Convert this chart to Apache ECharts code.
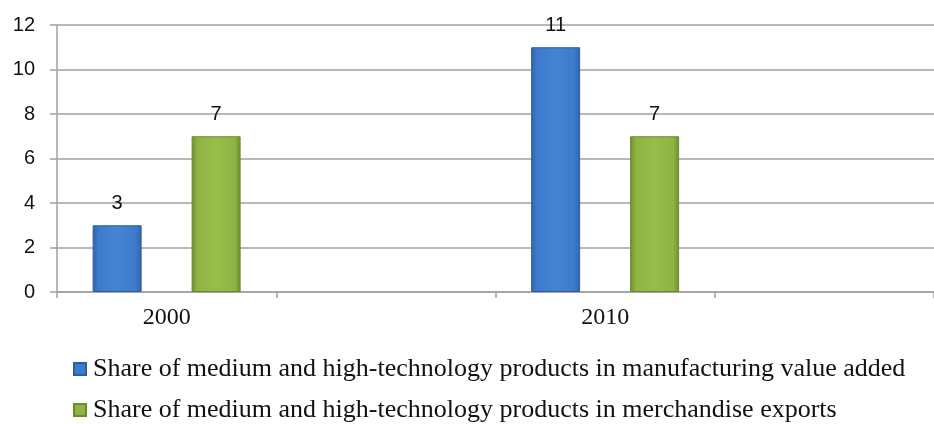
<!DOCTYPE html>
<html>
<head>
<meta charset="utf-8">
<script src="https://cdn.jsdelivr.net/npm/echarts@6/dist/echarts.min.js"></script>
<style>
  html, body { margin: 0; padding: 0; background: #fff; }
  #chart { width: 934px; height: 424px; }
</style>
</head>
<body>
<div id="chart"></div>
<script>
// Categories (the blank slots keep the empty bands to the right of each year)
const categories = ['2000', '', '2010', ''];
const seriesNames = [
  'Share of medium and high-technology products in manufacturing value added',
  'Share of medium and high-technology products in merchandise exports'
];
const manufacturingShare = [3, null, 11, null];
const exportsShare = [7, null, 7, null];
const yTicks = [0, 2, 4, 6, 8, 10, 12];

function bevel(dark, main, light) {
  return {
    type: 'linear', x: 0, y: 0, x2: 1, y2: 0,
    colorStops: [
      { offset: 0, color: dark },
      { offset: 0.12, color: main },
      { offset: 0.5, color: light },
      { offset: 0.88, color: main },
      { offset: 1, color: dark }
    ]
  };
}

const blueFill = bevel('#2f64a8', '#3d7acb', '#4584d3');
const greenFill = bevel('#6f8f30', '#8fb444', '#97bd4a');
const blueSwatch = '#3d7acb';
const greenSwatch = '#8fb444';

const chart = echarts.init(document.getElementById('chart'), null, { renderer: 'canvas' });

const labelStyle = {
  show: true,
  position: 'top',
  distance: 12,
  fontFamily: 'Liberation Sans, Arial, sans-serif',
  fontSize: 20,
  color: '#111'
};

function legendRow(name, color, top) {
  return {
    orient: 'horizontal',
    left: 73,
    top: top,
    padding: 0,
    itemWidth: 12,
    itemHeight: 12,
    icon: 'rect',
    textStyle: {
      fontFamily: 'Liberation Serif, Times New Roman, serif',
      fontSize: 26,
      color: '#111',
      padding: [0, 0, 0, 2]
    },
    data: [{ name: name, itemStyle: { color: color } }]
  };
}

chart.setOption({
  animation: false,
  backgroundColor: '#ffffff',
  grid: { left: 57, top: 25, width: 887, height: 267, containLabel: false },
  legend: [
    legendRow(seriesNames[0], blueSwatch, 356),
    legendRow(seriesNames[1], greenSwatch, 397)
  ],
  xAxis: {
    type: 'category',
    data: categories,
    boundaryGap: true,
    axisLine: { show: true, lineStyle: { color: '#a0a0a0', width: 1.5 } },
    axisTick: { show: true, length: 6, lineStyle: { color: '#a0a0a0', width: 1.5 } },
    axisLabel: {
      fontFamily: 'Liberation Serif, Times New Roman, serif',
      fontSize: 24,
      color: '#111',
      margin: 14
    }
  },
  yAxis: {
    type: 'value',
    min: yTicks[0],
    max: yTicks[yTicks.length - 1],
    interval: 2,
    axisLine: { show: true, lineStyle: { color: '#a0a0a0', width: 1.5 } },
    axisTick: { show: true, length: 7, lineStyle: { color: '#a0a0a0', width: 1.5 } },
    splitLine: { show: true, lineStyle: { color: '#a0a0a0', width: 1.5 } },
    axisLabel: {
      fontFamily: 'Liberation Sans, Arial, sans-serif',
      fontSize: 20,
      color: '#111',
      margin: 22
    }
  },
  series: [
    {
      name: seriesNames[0],
      type: 'bar',
      data: manufacturingShare,
      barWidth: 49,
      barGap: '102%',
      itemStyle: { color: blueFill, borderColor: '#2c5e9e', borderWidth: 1 },
      label: labelStyle
    },
    {
      name: seriesNames[1],
      type: 'bar',
      data: exportsShare,
      barWidth: 49,
      itemStyle: { color: greenFill, borderColor: '#6a8a2e', borderWidth: 1 },
      label: labelStyle
    }
  ]
});
</script>
</body>
</html>
